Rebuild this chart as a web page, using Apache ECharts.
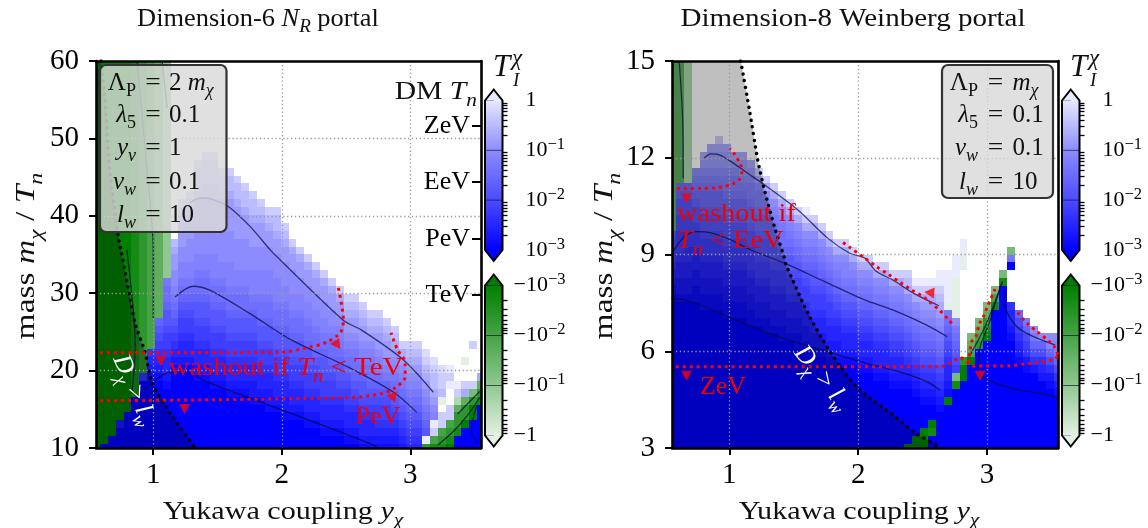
<!DOCTYPE html>
<html><head><meta charset="utf-8">
<style>html,body{margin:0;padding:0;background:#fff}#c{width:1148px;height:528px}</style>
<script src="https://cdn.jsdelivr.net/npm/echarts@6/dist/echarts.min.js"></script>
</head><body><div id="c"></div>
<script>
// Cell levels, one string per column, top row first; a number repeats the next letter.
// '.' empty; A..T positive T from 1e-3 to 1; a..j negative T from -1e-3 to -1.
const leftColumns = [
"50a","49a1A","48a2A","46aC3A","45a5A","43b7A","40cE9A","37dEDCB9A","33eIHGFEDCB9A","28gKJJIHHGFFEDDCB8A",
"23.PONNMMLKJIHGFEDCB10A","18.QPONNNMMLLKJIHGFFEDDCB10A","17.QPONNNMMMLLKJIHGFFEDDCB10A","13.QPPPONNNNMMMLLKJJIHHGFFEDDCB9A","12.QPPPOONNNNMMMLLKJJIHHGFFEDDCB9A",
"12.QPPPOONNNNMMMLLLKJJIHHGFFEDDCB8A","14.QPPONNNNMMMMLLKJJIHHGFFEDDCB8A","14.QPPONNNNMMMMLLLKJJIHHGFFEDDCB7A","15.QPPONNNNMMMMLLKJJIHHGFFEDDCB7A","16.QPPONNNMMMMLLKJJIHHGFFEDDCB7A",
"17.QPPONNNMMMLLLKJIHHGFFEDDCCB6A","18.QPONNNMMMLLLKJJIHHGFFEDDCB6A","19.QPONNMMMLLLKJJIHHGFFEDDCCB5A","19.QPPONNMMMLLLKJJIHHGFFEDDCB5A","21.QPONNMMMLLKJJIHHGFFEDDCCB4A",
"23.QONNMMMLLKJJIHHGFFEDDCB4A","24.QONNMMLLKJJIHHGFFEDDCB4A","25.QONNMMLLKJJIHHGFFEDDCB3A","26.QONNMMLLKJJIHGFFEDDCB3A","27.QONNMMLLKJIHHGFFEDDCB2A",
"28.QONNMMLKJJIHGFFEDDCB2A","29.QONNMLLKJIHHGFEDDCB2A","30.QPONNMLKJIHGFFEDDCB1A","30.QPONNMLKJJIHGFEDDCBA","31.QPONNMLKJIHHGFEDDCB",
"32.QPONMLKJJIHGFEDDCB","32.QPONNMLKJIHGFFEDCB","33.QPONNMLKIHGFFEDCB","34.QPONMLKJIHGFEDCB","36.QONMLKJIHGFEDC",
"36.QPONMLKJIHGFED","36.QPONMLKJIHGFED","37.RQPONMLKJIHSc","38.RQPPONMLSQdb","39.RQQPj.QQdcb",
"39.SQS2.QQdcba","41.SQheccb2A","38.j2.QOecca3A","36.Q4.Qfcaa4A","40.Oecb6A"];
const rightColumns = [
"22eHGFFEDCB20A","16eJIHHGGFFFEDDCCB19A","16hJIHHGGFFEEDDCCB19A","14.MLKJIHHGFFEDDCCBB19A","12.ONMLKJJIHHGFFEDDCCBB18A",
"11.ONNMLKJJIHHGFFEDDCCBB18A","10.QONNMLKJJIHHGFFEDDCCBB18A","11.ONNMLLKJJIHHGFFEDDCCBB17A","12.ONMLLKJJIHHGFFEDDCCBB17A","12.ONNMLKJJIHHGFFEDDCCBB17A",
"13.ONMLLKJJIHHGFFEDDCCBB16A","14.QOMLLKJJIHHGFFEDDCCB16A","15.QOMLKJJIHHGFFEDDCCBB15A","16.QOMLKJJIHHGFFEDDCCB15A","17.QOMLKJJIHGFFEDDCCBB14A",
"18.QOMLKJIHHGFFEDDCCB14A","19.QOMLKJIHGFFEDDCCBB13A","19.SQOMLKJIHGFFEDDCCB13A","20.QOMLKJIHHGFFEDDCCB12A","21.QOMLKJIHGFFEDDCCB12A",
"22.QOMLKJIHGFFEDDCCB11A","23.QOMLKJIHGFEDDCCB11A","23.QOMLLKJIHGFEDDCB11A","24.QOMLKJIHGFEDDCB11A","25.QOMLKJIHGFEDDCB10A",
"25.QOMLKJIHGFEDDCB10A","26.QOMLKJIHGFEDDCB9A","26.QOMLKJIHGFEDDCB9A","27.QOMLKJIHGFEDDCB8A","27.QOMLKJIHGFEDDCB8A",
"27.QPOMLKJIHGFEDCB7Aa","28.SQOMLKJIHGFEDCB5A2a","28.SQONMLKJIHGFEDCB3A3a","28.SQONMLKJIHGFEDCB2Aab2A","27.SSQPONMLKJIHGFEDCB5A",
"27.4SjKJIHGFEDDCBa6A","25.3S5jMKJIHGFfb8A","23.2S2j11.c2a9A","35.feda11A","33.fedc13A",
"31.fecba14A","29.fdb18A","27.fb21A","24.fKA4.EDDCB14A","32.IGFEDCB11A",
"33.KIGFECB10A","34.MKIGEC10A","35.MIGEDC9A","35.MLIGECB8A","35.MLKIGECB7A"];

const yukawaRange = [0.555, 3.55];
const leftMassRange = [10, 60];
const rightMassRange = [3, 15];
const yukawaTicks = [1, 2, 3];
const bluePalette = ['#0000ff','#0c0cff','#1919ff','#2525ff','#3232ff','#3e3eff','#4b4bff','#5757ff','#6464ff','#6e6eff',
  '#7878ff','#8282ff','#8c8cff','#9b9bff','#aaaaff','#bbbbff','#cdcdff','#dcdcff','#ebebff','#f5f5ff'];
const greenPalette = ['#008000','#148c14','#2d962d','#46a346','#5faf5f','#78bb78','#91c891','#afd7af','#cde6cd','#e4f0e4'];
const barBlueStops = ['#0000ff','#4b4bff','#8c8cff','#e8e8ff'];
const barGreenStops = ['#008000','#46a346','#91c891','#e4f0e4'];
const dmTickValues = [29.8, 37, 44.4, 51.6];
const dmTickNames = ['TeV', 'PeV', 'EeV', 'ZeV'];

// Left panel curves: [Yukawa, mass/Tn]
const leftBoundary = [[.595,60],[.626,55],[.665,45.5],[.728,37.3],[.749,35.6],[.86,26.1],[.938,22.3],[.99,18.5],[1.132,14.5],[1.311,10.4],[1.335,10]];
const leftContours = [
 [[1.288,41.7],[1.34,42.2],[1.405,42.3],[1.482,42],[1.584,41.2],[1.755,38.6],[1.91,35.6],[1.988,34.3],[2.479,26.5],[2.624,25.2],[2.945,21.4],[3.179,17.2]],
 [[1.17,29.5],[1.31,30.9],[1.44,30.4],[1.75,27.4],[2.07,24],[2.51,20.5],[2.87,17.2],[3.05,14.6]],
 [[.99,18.5],[1.13,19.8],[1.25,19.9],[1.42,18.5],[2.07,14.5],[2.71,10.4],[2.75,10]],
 [[.875,60],[.938,48.5],[.99,39],[1,35.6],[1,26.8]],
 [[.795,35.6],[.86,23.1],[.834,17.1]],
 [[1.07,59.9],[1.109,53.9]],
 [[3.368,14.4],[3.54,17.3]],
 [[3.215,10.4],[3.345,12.3],[3.449,14.3],[3.54,16.5]],
 [[3.52,15.6],[3.475,12.3],[3.527,10.6]]];
const leftRedLines = [
 [[.588,22.3],[2.01,22.4],[2.18,22.9],[2.34,23.6],[2.455,24.9],[2.48,26.5],[2.44,30.7]],
 [[.588,16.1],[2.51,16.5],[2.77,17],[2.88,17.75],[2.96,19.2],[2.96,21],[2.9,22.7],[2.85,24.9]]];
const leftArrows = [[1.06,21.24,180],[1.244,15.04,180],[2.434,23.3,215],[2.868,16.46,200]];

// Right panel curves
const rightBoundary = [[1.086,15],[1.091,14.93],[1.156,13.48],[1.22,11.93],[1.272,11],[1.35,9.86],[1.428,8.88],[1.441,8.67],[1.609,7.18],[1.765,6.09],[1.92,5.21],[2.025,4.75],[2.271,4.02],[2.44,3.47],[2.609,3.09],[2.64,3]];
const rightContours = [
 [[.8,11.97],[.858,12.12],[.922,12.09],[1.013,11.88],[1.142,11.52],[1.272,11.16],[1.532,10.38],[1.765,9.5],[1.934,9.04],[2.05,8.89],[2.142,8.47],[2.268,8.21],[2.424,7.81],[2.626,7.41]],
 [[.564,9.09],[.65,9.55],[.751,9.71],[.858,9.67],[1.013,9.45],[1.169,9.14],[1.428,8.73],[1.739,8.16],[2.05,7.59],[2.268,7.28],[2.531,6.81],[2.691,6.45]],
 [[.55,7.65],[.65,7.59],[.805,7.38],[1.013,7.03],[1.272,6.61],[1.529,6.26],[1.791,5.95],[2.05,5.64],[2.167,5.52],[2.346,5.33],[2.531,5.06],[2.634,4.8]],
 [[2.868,5.88],[2.984,6.76],[3.062,7.54],[3.119,8.16]],
 [[3.119,8.16],[3.088,7.8],[3.01,6.81],[2.946,6.14],[2.932,5.33],[3.008,5.11],[3.179,4.86],[3.387,4.71],[3.553,4.58]],
 [[3.132,7.9],[3.148,7.28],[3.231,6.76],[3.335,6.5],[3.529,6.19]],
 [[.611,14.98],[.637,13.27],[.642,11.36]]];
const rightRedLines = [
 [[.593,11.05],[.78,11.05],[.922,11.08],[1.026,11.19],[1.078,11.33],[1.096,11.52],[1.091,11.74],[1.039,12.12],[1.005,12.29]],
 [[.585,5.52],[2.634,5.52],[2.696,5.6],[2.751,5.73],[2.79,5.8],[2.854,5.63],[2.899,5.54],[3.174,5.55],[3.28,5.6],[3.389,5.65],[3.504,5.73],[3.553,5.86]],
 [[2.854,5.63],[2.881,6.3],[2.914,6.47],[2.94,6.85],[2.967,7.03],[3.002,7.38],[3.062,7.93]],
 [[3.236,7.2],[3.309,6.87],[3.395,6.59],[3.477,6.32],[3.521,6.14],[3.553,5.86]],
 [[1.882,9.37],[1.928,9.24],[2.05,8.89],[2.142,8.62],[2.232,8.39],[2.323,8.14],[2.414,7.9],[2.504,7.69],[2.551,7.54],[2.634,7.26],[2.707,6.95],[2.743,6.76]]];
const rightArrows = [[.668,10.74,180],[.668,5.24,180],[2.551,7.82,85],[2.946,5.24,180]];

// Colour bar: log10 of |T|
const barMinor = [];
for (let d = -3; d < 0; d++) for (let k = 2; k < 10; k++) barMinor.push(d + Math.log10(k));

const F = '"Liberation Serif"';
function decode(cols, xr, yr) {
  const cells = [];
  const dx = (xr[1] - xr[0]) / 49, dy = (yr[1] - yr[0]) / 49;
  cols.forEach((s, i) => {
    let j = 0;
    for (const m of s.matchAll(/(\d*)([A-Ta-j.])/g)) {
      const rep = m[1] ? +m[1] : 1;
      for (let n = 0; n < rep; n++, j++) {
        const ch = m[2];
        if (ch === '.') continue;
        const up = ch >= 'A' && ch <= 'T';
        const lv = ch.charCodeAt(0) - (up ? 65 : 97);
        cells.push([xr[0] + i * dx, yr[1] - j * dy, lv, up ? 1 : 0]);
      }
    }
  });
  return cells;
}
function heatSeries(cols, yr, xi, yi) {
  const xr = yukawaRange;
  const dx = (xr[1] - xr[0]) / 49, dy = (yr[1] - yr[0]) / 49;
  return {
    type: 'custom', xAxisIndex: xi, yAxisIndex: yi, z: 1, silent: true, progressive: 0,
    data: decode(cols, xr, yr),
    encode: {x: 0, y: 1},
    renderItem(p, api) {
      const x = api.value(0), y = api.value(1);
      const a = api.coord([Math.max(xr[0], x - dx / 2), Math.min(yr[1], y + dy / 2)]);
      const b = api.coord([Math.min(xr[1], x + dx / 2), Math.max(yr[0], y - dy / 2)]);
      const x0 = Math.round(a[0]), y0 = Math.round(a[1]);
      return {type: 'rect', shape: {x: x0, y: y0, width: Math.round(b[0]) - x0, height: Math.round(b[1]) - y0},
        style: {fill: (api.value(3) ? bluePalette : greenPalette)[api.value(2)]}};
    }
  };
}
function overlaySeries(boundary, yr, xi, yi) {
  const poly = boundary.concat([[yukawaRange[0], yr[0]], [yukawaRange[0], yr[1]]]);
  return {
    type: 'custom', xAxisIndex: xi, yAxisIndex: yi, z: 2, silent: true,
    data: [0],
    renderItem(p, api) {
      return {type: 'polygon', shape: {points: poly.map(q => api.coord(q))}, style: {fill: 'rgba(0,0,0,0.25)'}};
    }
  };
}
function panelSeries(cols, yr, boundary, contours, reds, arrows, xi, yi) {
  const out = [heatSeries(cols, yr, xi, yi), overlaySeries(boundary, yr, xi, yi)];
  contours.forEach(c => out.push({type: 'line', xAxisIndex: xi, yAxisIndex: yi, data: c, smooth: 0.3, showSymbol: false, silent: true, z: 3,
    lineStyle: {color: 'rgba(10,10,60,0.72)', width: 1.3}}));
  out.push({type: 'line', xAxisIndex: xi, yAxisIndex: yi, data: boundary, smooth: 0.2, showSymbol: false, silent: true, z: 6,
    lineStyle: {color: '#000', width: 3.4, type: [0.1, 6.6], cap: 'round'}});
  reds.forEach(c => out.push({type: 'line', xAxisIndex: xi, yAxisIndex: yi, data: c, smooth: 0.3, showSymbol: false, silent: true, z: 6,
    lineStyle: {color: '#ff0000', width: 3, type: [3, 4], cap: 'butt'}}));
  out.push({type: 'scatter', xAxisIndex: xi, yAxisIndex: yi, silent: true, z: 6, symbol: 'triangle', symbolSize: [11, 10],
    data: arrows.map(a => ({value: [a[0], a[1]], symbolRotate: a[2]})), itemStyle: {color: '#ff0000'}});
  return out;
}
function barSeries(xi, yi, stops, lines, inverse) {
  const hi = stops[3], lo = stops[0];
  return {
    type: 'custom', xAxisIndex: xi, yAxisIndex: yi, silent: true, z: 2, clip: false,
    data: [0],
    renderItem(p, api) {
      const l = api.coord([0, -3]), r = api.coord([1, -3]);
      const yA = api.coord([0, -3])[1], yB = api.coord([0, 0])[1];
      const yT = Math.min(yA, yB), yBot = Math.max(yA, yB);
      const x0 = l[0], x1 = r[0], xm = (x0 + x1) / 2, tip = 11;
      const topC = inverse ? lo : hi, botC = inverse ? hi : lo;
      const mids = inverse ? [stops[1], stops[2]] : [stops[2], stops[1]];
      const kids = [
        {type: 'polygon', shape: {points: [[x0, yT], [xm, yT - tip], [x1, yT]]}, style: {fill: topC}},
        {type: 'polygon', shape: {points: [[x0, yBot], [xm, yBot + tip], [x1, yBot]]}, style: {fill: botC}},
        {type: 'rect', shape: {x: x0, y: yT, width: x1 - x0, height: yBot - yT},
          style: {fill: new echarts.graphic.LinearGradient(0, 0, 0, 1, [
            {offset: 0, color: topC}, {offset: 1 / 3, color: mids[0]}, {offset: 2 / 3, color: mids[1]}, {offset: 1, color: botC}])}}
      ];
      lines.forEach(v => {
        const y = api.coord([0, v])[1];
        kids.push({type: 'line', shape: {x1: x0, y1: y, x2: x1, y2: y}, style: {stroke: 'rgba(20,20,50,0.7)', lineWidth: 1}});
      });
      kids.push({type: 'polygon', shape: {points: [[x0, yT], [xm, yT - tip], [x1, yT], [x1, yBot], [xm, yBot + tip], [x0, yBot]]},
        style: {fill: 'none', stroke: '#000', lineWidth: 2}});
      return {type: 'group', children: kids};
    }
  };
}
function barAxes(gi, neg) {
  const rich = {b: {fontFamily: F, fontSize: 22, lineHeight: 28, color: '#000'},
                s: {fontFamily: F, fontSize: 16.5, lineHeight: 16, verticalAlign: 'top', color: '#000'}};
  return [{
    gridIndex: gi, type: 'value', min: -3, max: 0, interval: 1, position: 'right', inverse: neg,
    axisLine: {show: false}, splitLine: {show: false},
    axisTick: {show: true, length: 9, lineStyle: {color: '#000', width: 2}},
    axisLabel: {show: true, align: 'left', margin: neg ? 11 : 23, rich, color: '#000',
      formatter: v => {
        const sign = neg ? '\u2212' : '';
        return v === 0 ? '{b|' + sign + '1}' : '{b|' + sign + '10}{s|\u2212' + (-v) + '}';
      }}
  }, {
    gridIndex: gi, type: 'value', min: -3, max: 0, position: 'right', inverse: neg,
    axisLine: {show: false}, splitLine: {show: false}, axisLabel: {show: false},
    axisTick: {show: true, length: 5, customValues: barMinor, lineStyle: {color: '#000', width: 1.3}}
  }];
}
const gridSplit = {show: true, lineStyle: {color: '#9a9a9a', width: 1.3, type: [1.3, 2.6]}};
const tickLabel = {fontFamily: F, fontSize: 29, color: '#000'};
const edge = {show: true, onZero: false, lineStyle: {color: '#000', width: 2.6}};
function xMain(gi) {
  return [{
    gridIndex: gi, type: 'value', min: yukawaRange[0], max: yukawaRange[1], position: 'bottom', z: 5,
    axisLine: edge, splitLine: gridSplit,
    axisTick: {show: true, length: 7, customValues: yukawaTicks, lineStyle: {color: '#000', width: 2}},
    axisLabel: {show: true, customValues: yukawaTicks, margin: 13, ...tickLabel}
  }, {
    gridIndex: gi, type: 'value', min: yukawaRange[0], max: yukawaRange[1], position: 'top', z: 5,
    axisLine: edge, splitLine: {show: false}, axisTick: {show: false}, axisLabel: {show: false}
  }];
}
function yMain(gi, r, interval) {
  return {gridIndex: gi, type: 'value', min: r[0], max: r[1], interval, position: 'left', z: 5,
    axisLine: edge, splitLine: gridSplit,
    axisTick: {show: true, length: 7, lineStyle: {color: '#000', width: 2}},
    axisLabel: {show: true, margin: 17, ...tickLabel}};
}
const hiddenX = gi => ({gridIndex: gi, type: 'value', min: 0, max: 1, show: false});

function mathRich(S, color) {
  const L = S * 1.4;
  const mk = o => Object.assign({fontFamily: F, fill: color, color}, o);
  return {
    r: mk({fontSize: S, lineHeight: L}),
    i: mk({fontSize: S, lineHeight: L, fontStyle: 'italic'}),
    b: mk({fontSize: S * .72, lineHeight: S * .72, verticalAlign: 'bottom', fontStyle: 'italic'}),
    c: mk({fontSize: S * .72, lineHeight: S * .72, verticalAlign: 'bottom'})
  };
}
function txt(x, y, text, S, color, align, rotation, sx) {
  return {type: 'text', x, y, rotation: rotation || 0, scaleX: sx || 1, z: 100, silent: true,
    style: {text, rich: mathRich(S, color), align: align || 'center', verticalAlign: 'middle', fill: color}};
}
function box(x, y, w, h) {
  return {type: 'rect', z: 90, silent: true, shape: {x, y, width: w, height: h, r: 6},
    style: {fill: 'rgba(217,217,217,0.82)', stroke: '#333', lineWidth: 2.2}};
}
function boxRow(y, xl, xe, xv, lhs, rhs) {
  return [txt(xl, y, lhs, 25, '#111', 'right'), txt(xe, y, '{r|=}', 25, '#111', 'center', 0, 1.1), txt(xv, y, rhs, 25, '#111', 'left')];
}
function buildGraphics() {
  const e = [];
  e.push(txt(258, 19, '{r|Dimension-6 }{i|N}{b|R}{r| portal}', 25, '#111', 'center', 0, 1.056));
  e.push(txt(853, 19, '{r|Dimension-8 Weinberg portal}', 25, '#111', 'center', 0, 1.16));
  const xl = x => e.push(txt(x, 512, '{r|Yukawa coupling }{i|y}{b|\u03c7}', 26, '#111', 'center', 0, 1.16));
  xl(283); xl(859);
  const yl = x => e.push(txt(x, 256, '{r|mass }{i|m}{b|\u03c7}{r| / }{i|T}{b|n}', 27, '#111', 'center', Math.PI / 2, 1.24));
  yl(27); yl(605);
  const cbt = x => {
    e.push(txt(x, 68, '{i|T}', 31, '#111', 'left'));
    e.push(txt(x + 19, 59, '{i|\u03c7}', 23, '#111', 'left'));
    e.push(txt(x + 20, 81, '{i|I}', 19, '#111', 'left'));
  };
  cbt(493); cbt(1070);
  e.push(box(100, 65, 126.5, 167));
  [[83, '{r|\u039b}{c|P}', '{r|2 }{i|m}{b|\u03c7}'], [115, '{i|\u03bb}{c|5}', '{r|0.1}'], [148, '{i|y}{b|\u03bd}', '{r|1}'],
   [182, '{i|v}{b|w}', '{r|0.1}'], [215, '{i|l}{b|w}', '{r|10}']].forEach(r => e.push(...boxRow(r[0], 136, 153, 169, r[1], r[2])));
  e.push(box(942, 65, 111, 133));
  [[83, '{r|\u039b}{c|P}', '{i|m}{b|\u03c7}'], [115, '{i|\u03bb}{c|5}', '{r|0.1}'], [148, '{i|v}{b|w}', '{r|0.1}'],
   [182, '{i|l}{b|w}', '{r|10}']].forEach(r => e.push(...boxRow(r[0], 978, 995.5, 1012.5, r[1], r[2])));
  e.push(txt(477, 92, '{r|DM }{i|T}{b|n}', 26, '#111', 'right', 0, 1.14));
  const red = '#f00000';
  e.push(txt(286, 368, '{r|washout if }{i|T}{b|n}{r| < TeV}', 26, red, 'center', 0, 1.11));
  e.push(txt(378, 417, '{r|PeV}', 26, red));
  e.push(txt(677, 214, '{r|washout if}', 26, red, 'left', 0, 1.09));
  e.push(txt(677, 241, '{i|T}{b|n}{r| < EeV}', 26, red, 'left', 0, 1.09));
  e.push(txt(723, 387, '{r|ZeV}', 26, red));
  e.push(txt(134, 390, '{i|D}{b|\u03c7}{r| > }{i|l}{b|w}', 26, '#fff', 'center', -1.16));
  e.push(txt(822, 378, '{i|D}{b|\u03c7}{r| > }{i|l}{b|w}', 26, '#fff', 'center', -0.9));
  return e;
}

const option = {
  animation: false,
  backgroundColor: '#fff',
  grid: [
    {left: 96, top: 61, width: 385, height: 387},
    {left: 672, top: 61, width: 386, height: 387},
    {left: 485, top: 100.5, width: 17.5, height: 149.5},
    {left: 485, top: 285.5, width: 17.5, height: 150},
    {left: 1062, top: 100.5, width: 17.5, height: 149.5},
    {left: 1062, top: 285.5, width: 17.5, height: 150}
  ],
  xAxis: [...xMain(0), ...xMain(1), hiddenX(2), hiddenX(3), hiddenX(4), hiddenX(5)],
  yAxis: [
    yMain(0, leftMassRange, 10),
    {gridIndex: 0, type: 'value', min: leftMassRange[0], max: leftMassRange[1], position: 'right', z: 5,
      axisLine: edge, splitLine: {show: false},
      axisTick: {show: true, inside: true, length: 9, customValues: dmTickValues, lineStyle: {color: '#000', width: 2}},
      axisLabel: {show: true, inside: true, customValues: dmTickValues, margin: 11, fontFamily: F, fontSize: 26, color: '#000',
        formatter: v => dmTickNames[dmTickValues.indexOf(v)] || ''}},
    yMain(1, rightMassRange, 3),
    {gridIndex: 1, type: 'value', min: rightMassRange[0], max: rightMassRange[1], position: 'right', z: 5,
      axisLine: edge, splitLine: {show: false}, axisTick: {show: false}, axisLabel: {show: false}},
    ...barAxes(2, false), ...barAxes(3, true), ...barAxes(4, false), ...barAxes(5, true)
  ],
  series: [
    ...panelSeries(leftColumns, leftMassRange, leftBoundary, leftContours, leftRedLines, leftArrows, 0, 0),
    ...panelSeries(rightColumns, rightMassRange, rightBoundary, rightContours, rightRedLines, rightArrows, 2, 2),
    barSeries(4, 4, barBlueStops, [-1, -2], false),
    barSeries(5, 6, barGreenStops, [-3, -2, -1], true),
    barSeries(6, 8, barBlueStops, [-1, -2], false),
    barSeries(7, 10, barGreenStops, [-3, -2, -1], true)
  ],
  graphic: {elements: buildGraphics()}
};

const chart = echarts.init(document.getElementById('c'), null, {renderer: 'canvas', width: 1148, height: 528});
chart.setOption(option);
</script></body></html>
